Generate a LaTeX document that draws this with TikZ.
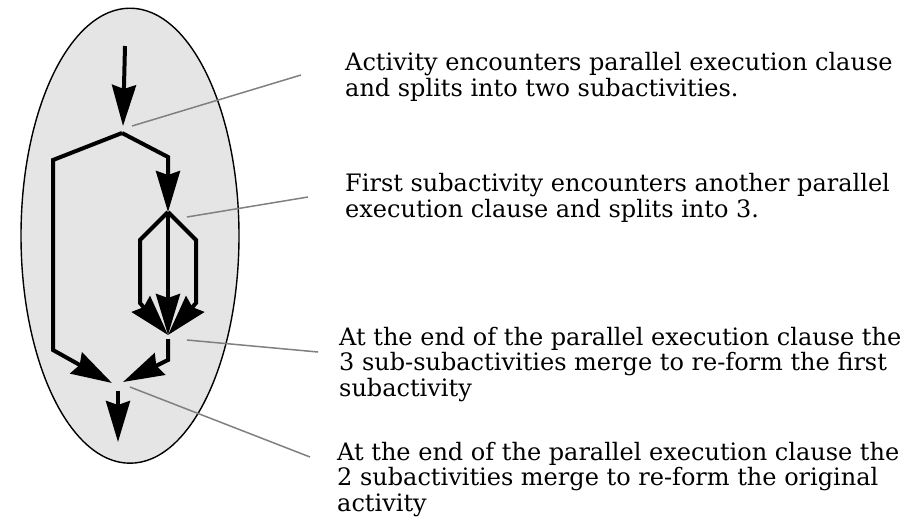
\documentclass[tikz,border=0pt]{standalone}
\usepackage{fontspec}
\setmainfont{DejaVu Serif}
\usetikzlibrary{arrows.meta,shapes.geometric}
\definecolor{actfill}{RGB}{229,229,229}
\definecolor{leadgrey}{RGB}{128,128,128}

\begin{document}
\begin{tikzpicture}[x=1pt,y=-1pt,
  act/.style={ellipse,draw=black,line width=1.4pt,fill=actfill,inner sep=0pt,
              minimum width=218pt,minimum height=455pt},
  flow/.style={line width=4pt,line join=miter,-{Stealth[length=41pt,width=24pt,inset=4pt]}},
  lead/.style={draw=leadgrey,line width=1.5pt},
  % base of a multi-line note is its last line
  note/.style={anchor=base west,inner sep=0pt,align=left,
               font=\fontsize{24}{25.8}\selectfont}]
\useasboundingbox (0,0) rectangle (910,520);

\node[act] (blob) at (130,235.7) {};

% points of the flow
\coordinate (src)   at (125,46);
\coordinate (fin)   at (123,126);
\coordinate (fork)  at (122,133);
\coordinate (sub)   at (168,212);
\coordinate (merge) at (168,335);
\coordinate (mout)  at (168,339);
\coordinate (joinL) at (112,383);
\coordinate (joinR) at (123,382);
\coordinate (out)   at (118,391);
\coordinate (sink)  at (118,442);

\draw[flow] (src) -- (fin);
\draw[flow] (fork) -- (53,160) -- (53,350) -- (joinL);
\draw[flow] (fork) -- (168,157) -- (sub);
\draw[flow] (sub) -- (140,240) -- (140,303) -- (merge);
\draw[flow] (sub) -- (merge);
\draw[flow] (sub) -- (196,240) -- (196,303) -- (merge);
\draw[flow] (mout) -- (168,360) -- (joinR);
\draw[flow] (out) -- (sink);

% the notes and their leaders
\node[note] (n1) at (345,96.5) {Activity encounters parallel execution clause\\
  and splits into two subactivities.};
\node[note] (n2) at (345,217.5) {First subactivity encounters another parallel\\
  execution clause and splits into 3.};
\node[note] (n3) at (339,396.6) {At the end of the parallel execution clause the\\
  3 sub-subactivities merge to re-form the first\\subactivity};
\node[note] (n4) at (337,511.6) {At the end of the parallel execution clause the\\
  2 subactivities merge to re-form the original\\activity};

\coordinate (a1) at (132,126); \coordinate (e1) at (301,75);
\coordinate (a2) at (187,217); \coordinate (e2) at (308,197);
\coordinate (a3) at (187,340); \coordinate (e3) at (318,352);
\coordinate (a4) at (130,387); \coordinate (e4) at (310,457);
\foreach \i in {1,...,4} \draw[lead] (a\i) -- (e\i);
\end{tikzpicture}
\end{document}
